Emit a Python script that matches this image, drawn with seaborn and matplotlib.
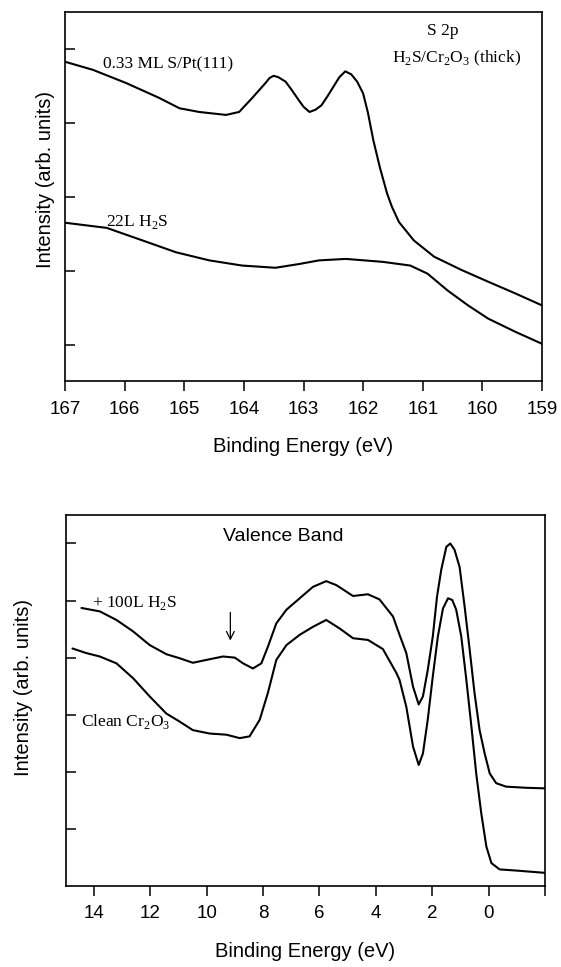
import numpy as np
import pandas as pd
import matplotlib
matplotlib.use("Agg")
import matplotlib.pyplot as plt
import seaborn as sns

# S 2p region (binding energy in eV, intensity in arb. units)
s2p_energy_pt = [167.0, 166.53, 165.97, 165.42, 165.08, 164.75, 164.3, 164.08, 163.86,
                 163.64, 163.57, 163.5, 163.42, 163.3, 163.2, 163.08, 163.0, 162.9,
                 162.8, 162.7, 162.6, 162.5, 162.4, 162.3, 162.2, 162.1, 162.0,
                 161.92, 161.83, 161.72, 161.6, 161.52, 161.4, 161.15, 160.81,
                 160.35, 159.9, 159.44, 159.0]
s2p_pt = [4.33, 4.22, 4.04, 3.84, 3.70, 3.65, 3.61, 3.65, 3.84,
          4.04, 4.11, 4.14, 4.12, 4.06, 3.95, 3.81, 3.72, 3.65,
          3.68, 3.74, 3.86, 3.99, 4.12, 4.20, 4.16, 4.06, 3.90,
          3.64, 3.27, 2.90, 2.55, 2.37, 2.16, 1.91, 1.69,
          1.51, 1.35, 1.19, 1.03]

s2p_energy_h2s = [167.0, 166.3, 165.7, 165.14, 164.58, 164.03, 163.47, 163.08, 162.74,
                  162.29, 161.67, 161.21, 160.92, 160.58, 160.24, 159.9, 159.44, 159.0]
s2p_h2s = [2.15, 2.08, 1.91, 1.75, 1.64, 1.57, 1.54, 1.59, 1.64,
           1.66, 1.62, 1.57, 1.46, 1.23, 1.03, 0.85, 0.67, 0.51]

# valence band region
vb_energy_h2s = [14.44, 13.79, 13.2, 12.61, 12.02, 11.43, 10.96, 10.49, 10.01, 9.42,
                 9.00, 8.71, 8.36, 8.06, 7.83, 7.53, 7.17, 6.70, 6.23, 5.76, 5.40,
                 4.81, 4.28, 3.87, 3.39, 3.16, 2.92, 2.68, 2.48, 2.33, 2.16, 1.98,
                 1.83, 1.68, 1.50, 1.36, 1.21, 1.03, 0.85, 0.67, 0.50, 0.32, 0.14,
                 -0.04, -0.27, -0.62, -1.33, -1.99]
vb_h2s = [4.87, 4.81, 4.66, 4.46, 4.22, 4.06, 3.99, 3.91, 3.96, 4.02,
          4.00, 3.90, 3.81, 3.90, 4.19, 4.60, 4.84, 5.04, 5.24, 5.34, 5.27,
          5.08, 5.11, 5.02, 4.72, 4.40, 4.08, 3.49, 3.18, 3.32, 3.78, 4.37,
          5.07, 5.54, 5.94, 6.00, 5.89, 5.59, 4.89, 4.13, 3.38, 2.73, 2.32,
          1.97, 1.80, 1.74, 1.72, 1.71]

vb_energy_clean = [14.76, 14.27, 13.79, 13.2, 12.61, 12.02, 11.43, 10.96, 10.49, 9.89,
                   9.30, 8.83, 8.48, 8.12, 7.83, 7.53, 7.17, 6.70, 6.23, 5.76, 5.28,
                   4.81, 4.28, 3.75, 3.27, 3.16, 2.92, 2.68, 2.48, 2.33, 2.16, 1.98,
                   1.80, 1.62, 1.44, 1.29, 1.15, 0.97, 0.79, 0.61, 0.44, 0.26, 0.08,
                   -0.10, -0.39, -0.98, -1.99]
vb_clean = [4.16, 4.08, 4.02, 3.90, 3.64, 3.32, 3.02, 2.88, 2.73, 2.67,
            2.65, 2.59, 2.62, 2.91, 3.38, 3.96, 4.22, 4.40, 4.54, 4.66, 4.51,
            4.34, 4.31, 4.15, 3.73, 3.61, 3.14, 2.44, 2.12, 2.32, 2.91, 3.67,
            4.37, 4.86, 5.04, 5.01, 4.84, 4.37, 3.61, 2.79, 1.97, 1.27, 0.69,
            0.40, 0.29, 0.27, 0.23]

s2p_xticks = [167, 166, 165, 164, 163, 162, 161, 160, 159]
vb_xticks = [14, 12, 10, 8, 6, 4, 2, 0, -2]
vb_xticklabels = ["14", "12", "10", "8", "6", "4", "2", "0", ""]

sns.set_style("ticks")
plt.rcParams["font.family"] = ["Liberation Sans", "DejaVu Sans"]
plt.rcParams["text.color"] = "black"
plt.rcParams["axes.labelcolor"] = "black"
plt.rcParams["xtick.color"] = "black"
plt.rcParams["ytick.color"] = "black"

serif = ["Liberation Serif", "DejaVu Serif"]
lw = 1.5

fig = plt.figure(figsize=(5.61, 9.67), dpi=100)
ax1 = fig.add_axes([0.1159, 0.6055, 0.8503, 0.3818])
ax2 = fig.add_axes([0.1171, 0.0838, 0.8544, 0.3837])

sns.lineplot(x=s2p_energy_pt, y=s2p_pt, ax=ax1, color="black", lw=lw, estimator=None)
sns.lineplot(x=s2p_energy_h2s, y=s2p_h2s, ax=ax1, color="black", lw=lw, estimator=None)
sns.lineplot(x=vb_energy_h2s, y=vb_h2s, ax=ax2, color="black", lw=lw, estimator=None)
sns.lineplot(x=vb_energy_clean, y=vb_clean, ax=ax2, color="black", lw=lw, estimator=None)

for ax in (ax1, ax2):
    for sp in ax.spines.values():
        sp.set_visible(True)
        sp.set_linewidth(1.2)
        sp.set_color("black")
    ax.tick_params(axis="y", direction="in", length=7, width=1.1, labelleft=False)
    ax.tick_params(axis="x", direction="out", length=7, width=1.1, labelsize=13.5, pad=7)
    ax.set_xlabel("Binding Energy (eV)", fontsize=14.5, labelpad=14)
    ax.set_ylabel("Intensity (arb. units)", fontsize=14.5)

ax1.set_xlim(167, 159)
ax1.set_ylim(0, 5.0)
ax1.set_xticks(s2p_xticks)
ax1.set_xticklabels([str(t) for t in s2p_xticks])
ax1.set_yticks([0.5, 1.5, 2.5, 3.5, 4.5])
ax1.yaxis.set_label_coords(-0.02, 0.546)

ax2.set_xlim(15, -2)
ax2.set_ylim(0, 6.5)
ax2.set_xticks(vb_xticks)
ax2.set_xticklabels(vb_xticklabels)
ax2.set_yticks([1, 2, 3, 4, 5, 6])
ax2.yaxis.set_label_coords(-0.068, 0.535)

# annotations, S 2p panel
ax1.text(166.36, 4.29, r"0.33 ML S/Pt(111)", family=serif, fontsize=12.5, ha="left", va="center")
ax1.text(166.31, 2.16, r"22L H$_\mathregular{2}$S", family=serif, fontsize=12.5, ha="left", va="center")
ax1.text(160.66, 4.75, "S 2p", family=serif, fontsize=12.5, ha="center", va="center")
ax1.text(160.44, 4.38, r"H$_\mathregular{2}$S/Cr$_\mathregular{2}$O$_\mathregular{3}$ (thick)",
         family=serif, fontsize=12.5, ha="center", va="center")

# annotations, valence band panel
ax2.text(7.28, 6.12, "Valence Band", fontsize=14, ha="center", va="center")
ax2.text(14.05, 4.95, r"+ 100L H$_\mathregular{2}$S", family=serif, fontsize=12.5, ha="left", va="center")
ax2.text(14.44, 2.88, r"Clean Cr$_\mathregular{2}$O$_\mathregular{3}$", family=serif, fontsize=12.5,
         ha="left", va="center")
ax2.annotate("", xy=(9.16, 4.25), xytext=(9.16, 4.84),
             arrowprops=dict(arrowstyle="->", color="black", lw=0.9, mutation_scale=14))

fig.savefig("out.png", dpi=100)
